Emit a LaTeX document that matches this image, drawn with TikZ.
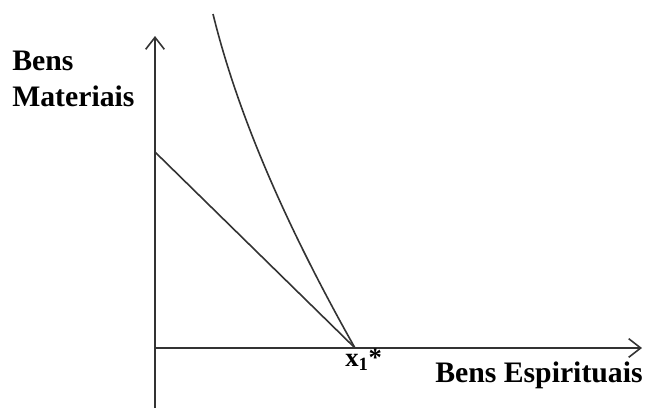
\documentclass[tikz,border=0pt]{standalone}
\usepackage{fontspec}
\setmainfont{Liberation Serif}
\usetikzlibrary{arrows.meta}
\tikzset{
  axis/.style={line width=1.2pt, draw=black!80, -{Straight Barb[length=9pt,width=14pt,line width=1.2pt]}},
  curveline/.style={line width=1.2pt, draw=black!80},
  lbl/.style={font=\fontsize{22.3}{26}\selectfont\bfseries, inner sep=0pt, anchor=base west}
}
\begin{document}
\begin{tikzpicture}[x=0.75pt,y=-0.75pt]
\useasboundingbox (0,0) rectangle (648,408);
\coordinate (ybot) at (155,408);
\coordinate (ytop) at (155,36);
\coordinate (O) at (155,348);
\coordinate (xend) at (642,348);
\coordinate (A) at (155,152);
\coordinate (X1) at (355,348);
\coordinate (C0) at (213,14);
\draw[axis] (ybot) -- (ytop);
\draw[axis] (O) -- (xend);
\draw[curveline] (A) -- (X1);
\draw[curveline] (C0) .. controls (240,124) and (293,238) .. (X1);
\node[lbl] (bens) at (12,70) {Bens};
\node[lbl] (mat) at (12,106) {Materiais};
\node[lbl] (esp) at (435,382) {Bens Espirituais};
\node[lbl, font=\fontsize{20}{24}\selectfont\bfseries] (x1) at (345,366) {x\textsubscript{1}*};
\end{tikzpicture}
\end{document}
